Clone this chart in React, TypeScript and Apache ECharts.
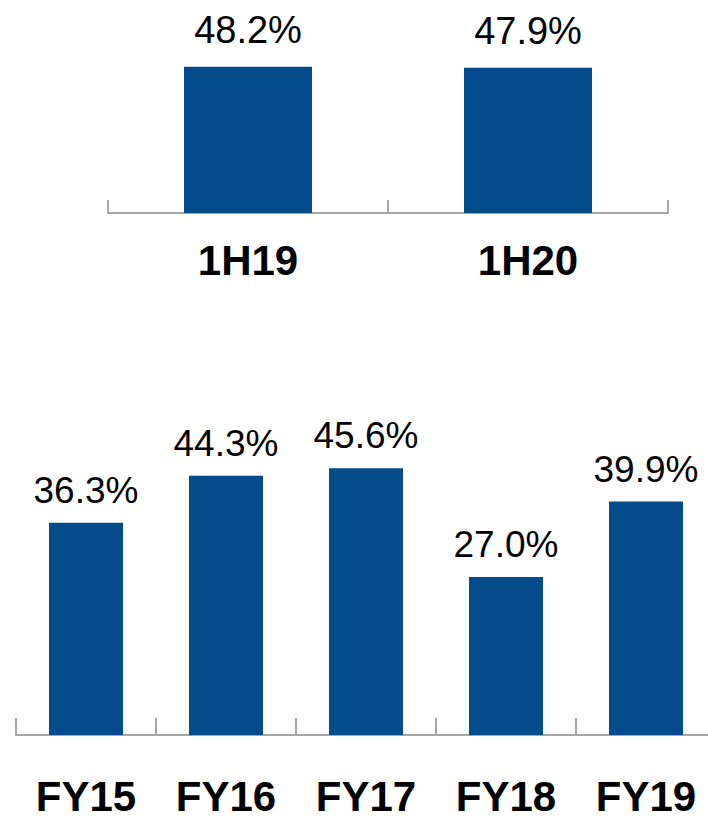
import React, { useEffect, useRef } from "react";
import * as echarts from "echarts";

const halfCategories = ["1H19", "1H20"];
const halfValues = [48.2, 47.9];
const fyCategories = ["FY15", "FY16", "FY17", "FY18", "FY19"];
const fyValues = [36.3, 44.3, 45.6, 27.0, 39.9];

const BAR = "#034B8B";
const AXIS = "#A6A6A6";
const FONT = "'Liberation Sans', Arial, sans-serif";

export default function App() {
  const ref = useRef<HTMLDivElement>(null);
  useEffect(() => {
    if (!ref.current) return;
    const chart = echarts.init(ref.current, undefined, { renderer: "svg" });
    const axisCommon = (margin: number, tickLen: number) => ({
      type: "category" as const,
      axisLine: { show: true, lineStyle: { color: AXIS, width: 2 } },
      axisTick: { show: true, inside: true, length: tickLen, lineStyle: { color: AXIS, width: 2 } },
      axisLabel: {
        color: "#000",
        fontFamily: FONT,
        fontWeight: "bold" as const,
        fontSize: 42,
        lineHeight: 36,
        margin,
      },
    });
    const valueAxis = (gridIndex: number) => ({
      type: "value" as const,
      gridIndex,
      min: 0,
      max: 60,
      show: false,
      splitLine: { show: false },
    });
    const label = (fontSize: number, distance: number) => ({
      show: true,
      position: "top" as const,
      distance,
      color: "#000",
      fontFamily: FONT,
      fontSize,
      formatter: (p: any) => p.value.toFixed(1) + "%",
    });
    chart.setOption({
      animation: false,
      grid: [
        { left: 108, top: 31, width: 560, height: 182 },
        { left: 16, top: 384, width: 700, height: 351 },
      ],
      xAxis: [
        { ...axisCommon(29, 13), gridIndex: 0, data: halfCategories },
        { ...axisCommon(43, 17), gridIndex: 1, data: fyCategories },
      ],
      yAxis: [valueAxis(0), valueAxis(1)],
      series: [
        {
          type: "bar",
          xAxisIndex: 0,
          yAxisIndex: 0,
          data: halfValues,
          barWidth: 128,
          itemStyle: { color: BAR },
          label: label(38, 18),
        },
        {
          type: "bar",
          xAxisIndex: 1,
          yAxisIndex: 1,
          data: fyValues,
          barWidth: 74,
          itemStyle: { color: BAR },
          label: label(37, 14),
        },
      ],
    });
    return () => chart.dispose();
  }, []);
  return (
    <div
      style={{ position: "fixed", left: 0, top: 0, width: 708, height: 821, overflow: "hidden", background: "#fff" }}
    >
      <div ref={ref} style={{ width: 730, height: 821 }} />
    </div>
  );
}
